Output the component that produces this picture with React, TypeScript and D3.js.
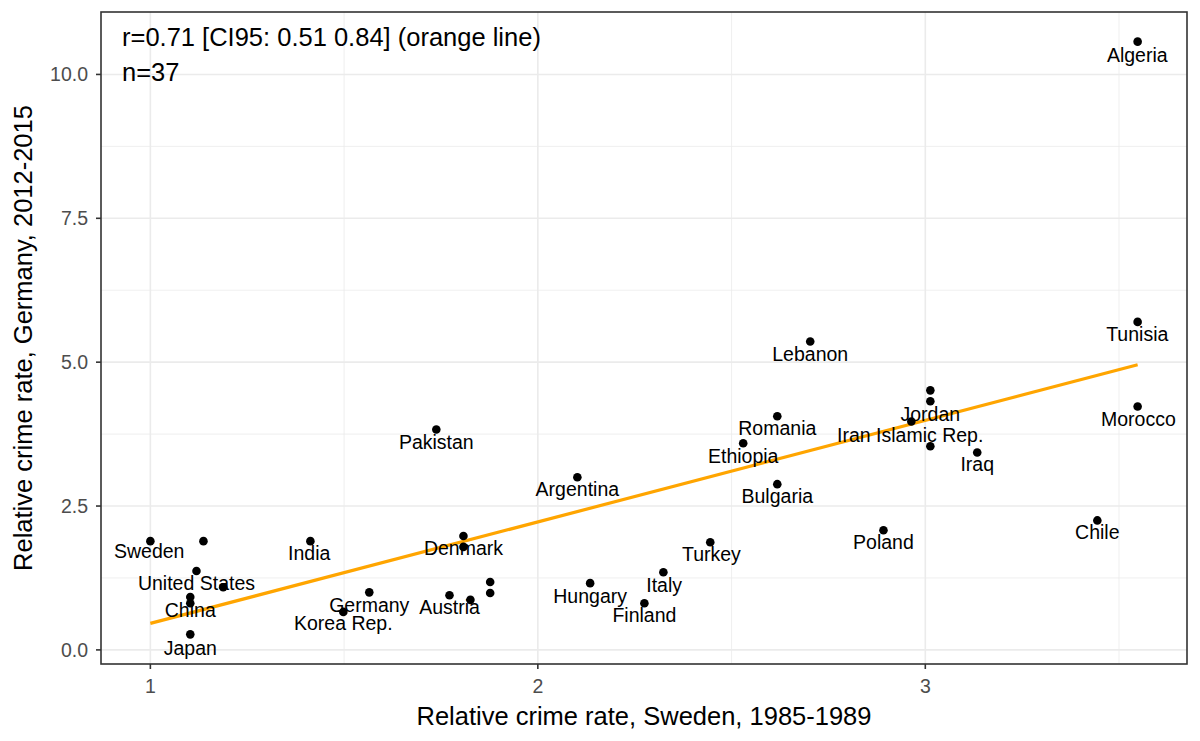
import { scaleLinear, extent, line as d3_line, mean, sum } from "d3";

// points (x = Sweden 1985-1989, y = Germany 2012-2015)
const pointNames = [
  "Sweden", "", "United States", "", "China", "", "Japan", "India",
  "Korea Rep.", "Germany", "Pakistan", "", "Denmark", "Austria", "", "", "",
  "Argentina", "Hungary", "Finland", "Italy", "Turkey", "Ethiopia", "Romania",
  "Bulgaria", "Lebanon", "Poland", "", "Jordan", "Iran Islamic Rep.", "",
  "Iraq", "Chile", "Tunisia", "Morocco", "Algeria",
];
const pointX = [
  1.0, 1.137, 1.119, 1.188, 1.103, 1.103, 1.103, 1.413,
  1.498, 1.565, 1.738, 1.808, 1.808, 1.772, 1.826, 1.877, 1.877,
  2.102, 2.135, 2.275, 2.324, 2.445, 2.53, 2.618,
  2.618, 2.703, 2.892, 3.013, 3.013, 2.964, 3.013,
  3.134, 3.444, 3.548, 3.548, 3.548,
];
const pointY = [
  1.89, 1.89, 1.37, 1.09, 0.92, 0.81, 0.27, 1.89,
  0.66, 1.0, 3.83, 1.98, 1.79, 0.95, 0.87, 1.18, 0.99,
  3.0, 1.16, 0.81, 1.35, 1.87, 3.59, 4.06,
  2.88, 5.36, 2.08, 4.51, 4.32, 3.97, 3.54,
  3.43, 2.25, 5.7, 4.23, 10.57,
];

// repelled label positions (data units, text baseline)
const labelNames = [
  "Sweden", "United States", "China", "Japan", "India", "Germany", "Korea Rep.",
  "Denmark", "Austria", "Pakistan", "Argentina", "Hungary", "Finland", "Italy",
  "Turkey", "Bulgaria", "Ethiopia", "Romania", "Lebanon", "Jordan",
  "Iran Islamic Rep.", "Iraq", "Poland", "Chile", "Tunisia", "Morocco", "Algeria",
];
const labelX = [
  0.997, 1.119, 1.103, 1.103, 1.41, 1.565, 1.498,
  1.808, 1.772, 1.738, 2.102, 2.135, 2.275, 2.326,
  2.448, 2.618, 2.53, 2.618, 2.703, 3.013,
  2.961, 3.134, 2.892, 3.444, 3.547, 3.55, 3.547,
];
const labelY = [
  1.594, 1.04, 0.572, -0.087, 1.56, 0.659, 0.347,
  1.646, 0.624, 3.484, 2.669, 0.815, 0.485, 1.005,
  1.542, 2.548, 3.241, 3.726, 5.026, 3.986,
  3.605, 3.102, 1.75, 1.924, 5.373, 3.899, 10.208,
];

const xTicks = [1, 2, 3];
const xMinor = [1.5, 2.5, 3.5];
const yTicks = [0, 2.5, 5, 7.5, 10];
const yMinor = [1.25, 3.75, 6.25, 8.75];

const annotation = ["r=0.71 [CI95: 0.51 0.84] (orange line)", "n=37"];
const xTitle = "Relative crime rate, Sweden, 1985-1989";
const yTitle = "Relative crime rate, Germany, 2012-2015";

const W = 1200;
const H = 741;
const margin = { top: 12, right: 13, bottom: 77, left: 101 };

// ggplot-style 5% expansion
function expand([lo, hi]: [number, number]): [number, number] {
  const pad = (hi - lo) * 0.05;
  return [lo - pad, hi + pad];
}

export default function App() {
  const font = "Arial, 'Liberation Sans', Helvetica, sans-serif";
  const x0 = margin.left;
  const x1 = W - margin.right;
  const y0 = margin.top;
  const y1 = H - margin.bottom;

  const xExt = extent(pointX) as [number, number];
  const yExt = extent(pointY) as [number, number];
  const xScale = scaleLinear().domain(expand(xExt)).range([x0, x1]);
  const yScale = scaleLinear().domain(expand(yExt)).range([y1, y0]);

  // least squares fit
  const mx = mean(pointX)!;
  const my = mean(pointY)!;
  const slope =
    sum(pointX.map((v, i) => (v - mx) * (pointY[i] - my))) /
    sum(pointX.map((v) => (v - mx) ** 2));
  const intercept = my - slope * mx;
  const fit = d3_line<number>()
    .x((v) => xScale(v))
    .y((v) => yScale(intercept + slope * v))(xExt);

  const grid = "#EBEBEB";
  const labelSize = 19.5;
  const titleSize = 25.5;

  return (
    <svg
      width={W}
      height={H}
      style={{ position: "absolute", left: 0, top: 0, background: "#fff" }}
      fontFamily={font}
    >
      <rect width={W} height={H} fill="#fff" />

      {/* Grid */}
      {yMinor.map((v) => (
        <line key={"ym" + v} x1={x0} x2={x1} y1={yScale(v)} y2={yScale(v)} stroke={grid} strokeWidth={0.8} />
      ))}
      {xMinor.map((v) => (
        <line key={"xm" + v} x1={xScale(v)} x2={xScale(v)} y1={y0} y2={y1} stroke={grid} strokeWidth={0.8} />
      ))}
      {yTicks.map((v) => (
        <line key={"y" + v} x1={x0} x2={x1} y1={yScale(v)} y2={yScale(v)} stroke={grid} strokeWidth={1.6} />
      ))}
      {xTicks.map((v) => (
        <line key={"x" + v} x1={xScale(v)} x2={xScale(v)} y1={y0} y2={y1} stroke={grid} strokeWidth={1.6} />
      ))}

      {/* Fit line */}
      {fit && <path d={fit} fill="none" stroke="#FFA500" strokeWidth={3.2} />}

      {/* Points */}
      {pointX.map((v, i) => (
        <circle key={i} cx={xScale(v)} cy={yScale(pointY[i])} r={4.3} fill="#000">
          {pointNames[i] && <title>{pointNames[i]}</title>}
        </circle>
      ))}

      {/* Labels */}
      {labelNames.map((name, i) => (
        <text
          key={name}
          x={xScale(labelX[i])}
          y={yScale(labelY[i])}
          textAnchor="middle"
          fontSize={labelSize}
          fill="#000"
        >
          {name}
        </text>
      ))}

      {/* Panel border */}
      <rect x={x0} y={y0} width={x1 - x0} height={y1 - y0} fill="none" stroke="#333333" strokeWidth={1.6} />

      {/* Annotation */}
      <text x={122} y={46} fontSize={titleSize} fill="#000">{annotation[0]}</text>
      <text x={122} y={81} fontSize={titleSize} fill="#000">{annotation[1]}</text>

      {/* Y axis */}
      {yTicks.map((v) => (
        <g key={"yt" + v} transform={`translate(0,${yScale(v)})`}>
          <line x1={x0 - 5} x2={x0} stroke="#333333" strokeWidth={1.6} />
          <text x={x0 - 13} dy="0.35em" textAnchor="end" fontSize={labelSize} fill="#4D4D4D">
            {v.toFixed(1)}
          </text>
        </g>
      ))}

      {/* X axis */}
      {xTicks.map((v) => (
        <g key={"xt" + v} transform={`translate(${xScale(v)},${y1})`}>
          <line y1={0} y2={5} stroke="#333333" strokeWidth={1.6} />
          <text y={28.5} textAnchor="middle" fontSize={labelSize} fill="#4D4D4D">
            {v}
          </text>
        </g>
      ))}

      <text x={(x0 + x1) / 2} y={725} textAnchor="middle" fontSize={titleSize} fill="#000">
        {xTitle}
      </text>
      <text
        transform={`translate(32,${(y0 + y1) / 2}) rotate(-90)`}
        textAnchor="middle"
        fontSize={titleSize}
        fill="#000"
      >
        {yTitle}
      </text>
    </svg>
  );
}
